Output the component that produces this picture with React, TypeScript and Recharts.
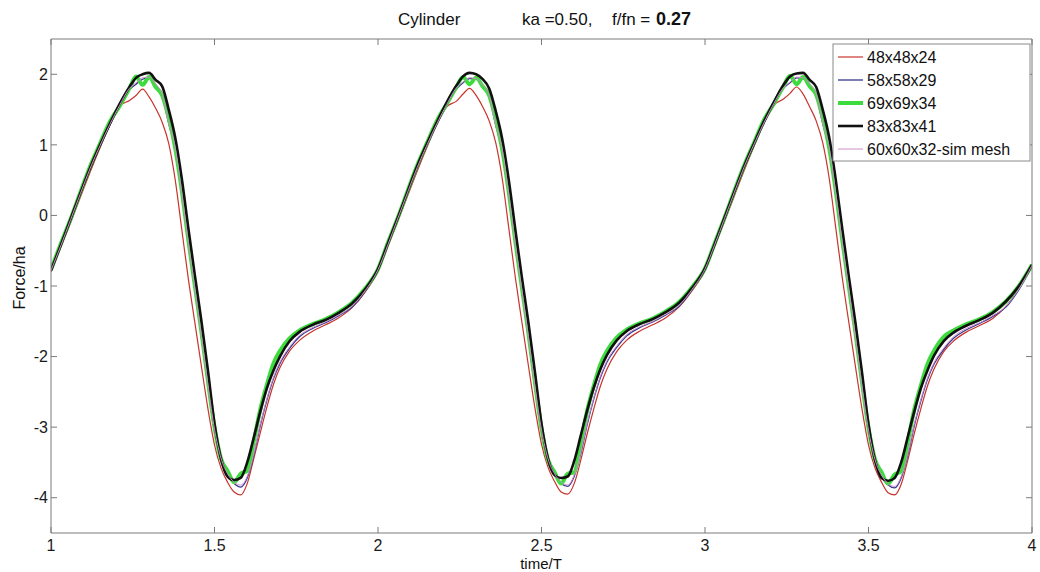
import { LineChart, Line, XAxis, YAxis } from 'recharts'

const time = [
  1.0, 1.03, 1.06, 1.09, 1.12, 1.15, 1.18, 1.21, 1.24, 1.26, 1.28, 1.3, 1.32, 1.34, 1.36, 1.38, 1.4, 1.42, 1.44, 1.46,
  1.48, 1.5, 1.52, 1.54, 1.56, 1.58, 1.6, 1.62, 1.64, 1.66, 1.68, 1.7, 1.73, 1.76, 1.8, 1.84, 1.88, 1.92, 1.96,
  2.0, 2.03, 2.06, 2.09, 2.12, 2.15, 2.18, 2.21, 2.24, 2.26, 2.28, 2.3, 2.32, 2.34, 2.36, 2.38, 2.4, 2.42, 2.44, 2.46,
  2.48, 2.5, 2.52, 2.54, 2.56, 2.58, 2.6, 2.62, 2.64, 2.66, 2.68, 2.7, 2.73, 2.76, 2.8, 2.84, 2.88, 2.92, 2.96,
  3.0, 3.03, 3.06, 3.09, 3.12, 3.15, 3.18, 3.21, 3.24, 3.26, 3.28, 3.3, 3.32, 3.34, 3.36, 3.38, 3.4, 3.42, 3.44, 3.46,
  3.48, 3.5, 3.52, 3.54, 3.56, 3.58, 3.6, 3.62, 3.64, 3.66, 3.68, 3.7, 3.73, 3.76, 3.8, 3.84, 3.88, 3.92, 3.96,
  4.0,
]

// 48x48x24
const mesh48 = [
  -0.8, -0.45, -0.1, 0.26, 0.62, 0.96, 1.28, 1.55, 1.63, 1.7, 1.79, 1.68, 1.52, 1.32, 1.02, 0.5, -0.2, -0.9, -1.52, -2.14,
  -2.74, -3.25, -3.58, -3.78, -3.92, -3.96, -3.8, -3.45, -3.08, -2.72, -2.4, -2.16, -1.92, -1.77, -1.64, -1.55, -1.45, -1.31, -1.09,
  -0.79, -0.44, -0.09, 0.27, 0.63, 0.97, 1.29, 1.54, 1.62, 1.72, 1.8, 1.7, 1.54, 1.34, 1.03, 0.52, -0.18, -0.88, -1.51, -2.13,
  -2.73, -3.24, -3.57, -3.77, -3.92, -3.95, -3.8, -3.47, -3.09, -2.74, -2.42, -2.18, -1.93, -1.77, -1.64, -1.55, -1.45, -1.3, -1.07,
  -0.78, -0.43, -0.08, 0.28, 0.64, 0.98, 1.3, 1.56, 1.65, 1.73, 1.82, 1.72, 1.54, 1.34, 1.03, 0.52, -0.18, -0.89, -1.52, -2.14,
  -2.74, -3.25, -3.58, -3.78, -3.93, -3.96, -3.81, -3.47, -3.09, -2.74, -2.42, -2.18, -1.93, -1.78, -1.65, -1.56, -1.46, -1.29, -1.04,
  -0.72,
]

// 58x58x29
const mesh58 = [
  -0.78, -0.43, -0.07, 0.3, 0.66, 0.98, 1.28, 1.55, 1.78, 1.86, 1.93, 1.95, 1.85, 1.7, 1.3, 0.95, 0.3, -0.4, -1.05, -1.72,
  -2.42, -3.05, -3.45, -3.68, -3.8, -3.85, -3.72, -3.4, -2.98, -2.62, -2.32, -2.1, -1.88, -1.72, -1.6, -1.52, -1.42, -1.3, -1.08,
  -0.77, -0.42, -0.06, 0.31, 0.67, 0.99, 1.29, 1.56, 1.79, 1.88, 1.94, 1.93, 1.84, 1.68, 1.28, 0.92, 0.28, -0.42, -1.07, -1.74,
  -2.44, -3.06, -3.46, -3.68, -3.8, -3.84, -3.7, -3.38, -2.96, -2.6, -2.3, -2.08, -1.87, -1.71, -1.59, -1.51, -1.41, -1.29, -1.06,
  -0.76, -0.41, -0.05, 0.32, 0.68, 1.0, 1.3, 1.57, 1.8, 1.88, 1.95, 1.94, 1.85, 1.7, 1.3, 0.94, 0.3, -0.4, -1.06, -1.73,
  -2.43, -3.06, -3.47, -3.7, -3.82, -3.86, -3.72, -3.4, -2.98, -2.63, -2.33, -2.11, -1.9, -1.74, -1.62, -1.53, -1.43, -1.3, -1.05,
  -0.72,
]

// 69x69x34
const mesh69 = [
  -0.77, -0.4, -0.05, 0.33, 0.7, 1.02, 1.33, 1.55, 1.8, 1.97, 1.85, 1.96, 1.82, 1.7, 1.38, 0.95, 0.35, -0.35, -1.0, -1.65,
  -2.35, -3.0, -3.45, -3.62, -3.78, -3.66, -3.62, -3.2, -2.75, -2.4, -2.1, -1.92, -1.74, -1.63, -1.54, -1.47, -1.37, -1.24, -1.04,
  -0.76, -0.39, -0.04, 0.34, 0.71, 1.03, 1.34, 1.58, 1.82, 1.96, 1.86, 1.95, 1.83, 1.7, 1.36, 0.93, 0.33, -0.37, -1.02, -1.67,
  -2.37, -3.02, -3.46, -3.64, -3.8, -3.66, -3.64, -3.22, -2.76, -2.41, -2.11, -1.92, -1.73, -1.62, -1.53, -1.46, -1.36, -1.23, -1.02,
  -0.75, -0.39, -0.03, 0.35, 0.71, 1.03, 1.35, 1.58, 1.83, 1.98, 1.86, 1.96, 1.83, 1.71, 1.38, 0.95, 0.34, -0.36, -1.01, -1.66,
  -2.36, -3.01, -3.46, -3.64, -3.8, -3.67, -3.63, -3.21, -2.75, -2.41, -2.11, -1.92, -1.72, -1.63, -1.54, -1.47, -1.37, -1.22, -1.0,
  -0.7,
]

// 83x83x41
const mesh83 = [
  -0.78, -0.42, -0.05, 0.32, 0.68, 1.0, 1.3, 1.58, 1.82, 1.95, 2.0, 2.02, 1.92, 1.83, 1.5, 1.1, 0.52, -0.18, -0.85, -1.5,
  -2.2, -2.95, -3.45, -3.7, -3.75, -3.72, -3.5, -3.15, -2.78, -2.45, -2.2, -2.0, -1.78, -1.65, -1.55, -1.48, -1.38, -1.25, -1.05,
  -0.76, -0.4, -0.04, 0.33, 0.7, 1.02, 1.32, 1.6, 1.84, 1.97, 2.02, 2.0, 1.93, 1.8, 1.48, 1.08, 0.5, -0.2, -0.88, -1.52,
  -2.22, -2.95, -3.45, -3.68, -3.72, -3.7, -3.48, -3.12, -2.76, -2.44, -2.18, -1.98, -1.77, -1.64, -1.54, -1.47, -1.37, -1.24, -1.03,
  -0.75, -0.4, -0.03, 0.34, 0.7, 1.02, 1.33, 1.6, 1.85, 1.97, 2.01, 2.02, 1.92, 1.82, 1.5, 1.1, 0.5, -0.2, -0.87, -1.52,
  -2.22, -2.96, -3.47, -3.72, -3.76, -3.72, -3.5, -3.14, -2.78, -2.45, -2.2, -1.99, -1.78, -1.66, -1.56, -1.48, -1.38, -1.22, -1.0,
  -0.7,
]

// 60x60x32-sim mesh
const simMesh = [
  -0.78, -0.43, -0.06, 0.31, 0.67, 0.99, 1.29, 1.56, 1.8, 1.88, 1.95, 1.96, 1.86, 1.72, 1.32, 0.96, 0.32, -0.38, -1.03, -1.7,
  -2.4, -3.03, -3.44, -3.66, -3.78, -3.82, -3.7, -3.38, -2.96, -2.6, -2.3, -2.08, -1.86, -1.7, -1.59, -1.51, -1.41, -1.29, -1.07,
  -0.77, -0.42, -0.05, 0.32, 0.68, 1.0, 1.3, 1.57, 1.81, 1.89, 1.95, 1.94, 1.85, 1.7, 1.3, 0.94, 0.3, -0.4, -1.05, -1.72,
  -2.42, -3.04, -3.45, -3.66, -3.78, -3.82, -3.68, -3.36, -2.94, -2.58, -2.28, -2.06, -1.85, -1.69, -1.58, -1.5, -1.4, -1.28, -1.05,
  -0.76, -0.41, -0.04, 0.33, 0.69, 1.01, 1.31, 1.58, 1.81, 1.89, 1.96, 1.95, 1.86, 1.72, 1.32, 0.96, 0.32, -0.38, -1.04, -1.71,
  -2.41, -3.04, -3.46, -3.68, -3.8, -3.84, -3.7, -3.38, -2.96, -2.61, -2.31, -2.09, -1.88, -1.72, -1.6, -1.52, -1.42, -1.29, -1.04,
  -0.71,
]

const xTicks = [1, 1.5, 2, 2.5, 3, 3.5, 4]
const yTicks = [-4, -3, -2, -1, 0, 1, 2]

const series = [
  { key: 'm48', name: '48x48x24', values: mesh48, color: '#c8342c', width: 1.2 },
  { key: 'm58', name: '58x58x29', values: mesh58, color: '#36368f', width: 1.3 },
  { key: 'm69', name: '69x69x34', values: mesh69, color: '#3ddc3d', width: 4 },
  { key: 'm83', name: '83x83x41', values: mesh83, color: '#111111', width: 2.6 },
  { key: 'sim', name: '60x60x32-sim mesh', values: simMesh, color: '#d08ccc', width: 1 },
]

const data = time.map((t, i) => {
  const row: Record<string, number> = { t }
  series.forEach((s) => { row[s.key] = s.values[i] })
  return row
})

const font = "'Liberation Sans', Arial, sans-serif"
const axisColor = '#7a7a7a'
const tickStyle = { fill: '#1a1a1a', fontSize: 16, fontFamily: font }

export default function App() {
  return (
    <div style={{ position: 'absolute', left: 0, top: 0, width: 1040, height: 572, background: '#fff' }}>
      <LineChart width={1040} height={572} data={data} margin={{ top: 38, right: 7, bottom: 9, left: 11 }}>
        <XAxis dataKey="t" type="number" domain={[1, 4]} ticks={xTicks} interval={0} height={30}
          stroke={axisColor} tickSize={-6} tickMargin={13} tick={tickStyle} allowDataOverflow />
        <XAxis xAxisId="top" dataKey="t" orientation="top" type="number" domain={[1, 4]} ticks={xTicks} interval={0} height={1}
          stroke={axisColor} tickSize={-6} tickFormatter={() => ''} allowDataOverflow />
        <YAxis type="number" domain={[-4.5, 2.5]} ticks={yTicks} interval={0} width={40}
          stroke={axisColor} tickSize={-6} tickMargin={9} tick={tickStyle} allowDataOverflow />
        <YAxis yAxisId="right" orientation="right" type="number" domain={[-4.5, 2.5]} ticks={yTicks} interval={0} width={1}
          stroke={axisColor} tickSize={-6} tickFormatter={() => ''} allowDataOverflow />
        {series.map((s) => (
          <Line key={s.key} dataKey={s.key} name={s.name} type="monotone" stroke={s.color}
            strokeWidth={s.width} dot={false} activeDot={false} isAnimationActive={false} />
        ))}
      </LineChart>

      <svg width={1040} height={572} style={{ position: 'absolute', left: 0, top: 0, pointerEvents: 'none' }}
        fontFamily={font}>
        <text x={398} y={25} fontSize={17} fill="#111">Cylinder</text>
        <text x={522} y={25} fontSize={17} fill="#111">ka =0.50,</text>
        <text x={612} y={25} fontSize={17} fill="#111">f/fn =</text>
        <text x={656} y={25} fontSize={18} fontWeight="bold" fill="#111">0.27</text>
        <text x={541} y={569} fontSize={15} textAnchor="middle" fill="#111">time/T</text>
        <text x={25} y={278} fontSize={16} textAnchor="middle" fill="#111" transform="rotate(-90 25 278)">Force/ha</text>

        <rect x={833} y={44} width={197} height={117} fill="#fff" stroke="#8a8a8a" strokeWidth={1} />
        {series.map((s, i) => (
          <g key={s.key}>
            <line x1={838} x2={863} y1={57 + i * 23} y2={57 + i * 23} stroke={s.color} strokeWidth={s.width} />
            <text x={867} y={57 + i * 23 + 6} fontSize={16} fill="#111">{s.name}</text>
          </g>
        ))}
      </svg>
    </div>
  )
}
